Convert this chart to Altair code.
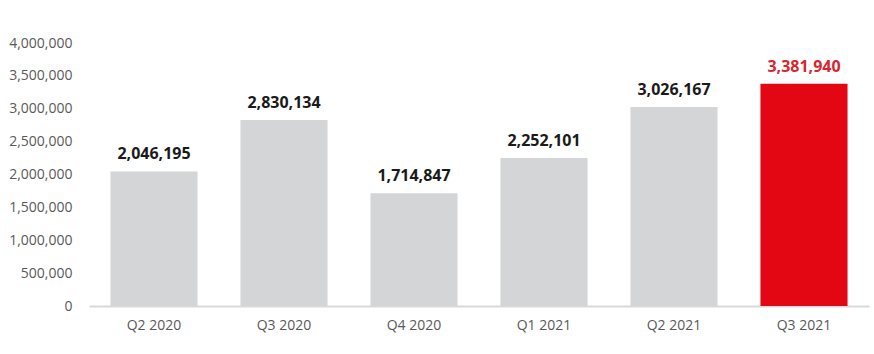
import altair as alt
import pandas as pd

quarters = ["Q2 2020", "Q3 2020", "Q4 2020", "Q1 2021", "Q2 2021", "Q3 2021"]
values = [2046195, 2830134, 1714847, 2252101, 3026167, 3381940]
highlight = [False, False, False, False, False, True]
y_ticks = [0, 500000, 1000000, 1500000, 2000000, 2500000, 3000000, 3500000, 4000000]

df = pd.DataFrame({"q": quarters, "v": values, "h": highlight})
df["lbl"] = [f"{v:,}" for v in values]

FONT = "Open Sans"

base = alt.Chart(df).encode(
    x=alt.X("q:N", sort=quarters, title=None,
            scale=alt.Scale(paddingInner=0.33, paddingOuter=0.165),
            axis=alt.Axis(labelAngle=0, ticks=False, domainColor="#d9d9d9", domainWidth=2,
                          labelColor="#595959", labelFontSize=14, labelFont=FONT,
                          labelPadding=12, grid=False)),
)

yscale = alt.Scale(domain=[0, 4000000], nice=False)

bars = base.mark_bar().encode(
    y=alt.Y("v:Q", title=None, scale=yscale,
            axis=alt.Axis(values=y_ticks, format=",.0f", grid=False, domain=False, ticks=False,
                          labelColor="#595959", labelFontSize=14, labelFont=FONT,
                          labelOverlap=False, labelPadding=17)),
    color=alt.Color("h:N", scale=alt.Scale(domain=[False, True], range=["#d4d5d6", "#e30613"]),
                    legend=None),
)

labels = base.mark_text(baseline="bottom", dy=-9, fontSize=16, fontWeight="bold", font=FONT).encode(
    y=alt.Y("v:Q", scale=yscale, axis=None),
    text="lbl:N",
    color=alt.Color("h:N", scale=alt.Scale(domain=[False, True], range=["#1a1a1a", "#d9262e"]),
                    legend=None),
)

chart = alt.layer(bars, labels).resolve_scale(color="independent").resolve_axis(y="independent").properties(
    width=780, height=263,
    autosize=alt.AutoSizeParams(type="none"),
    padding={"left": 89, "top": 43, "right": 5, "bottom": 48},
).configure_view(stroke=None)

chart.save("out.html", embed_options={"renderer": "svg", "actions": False})
